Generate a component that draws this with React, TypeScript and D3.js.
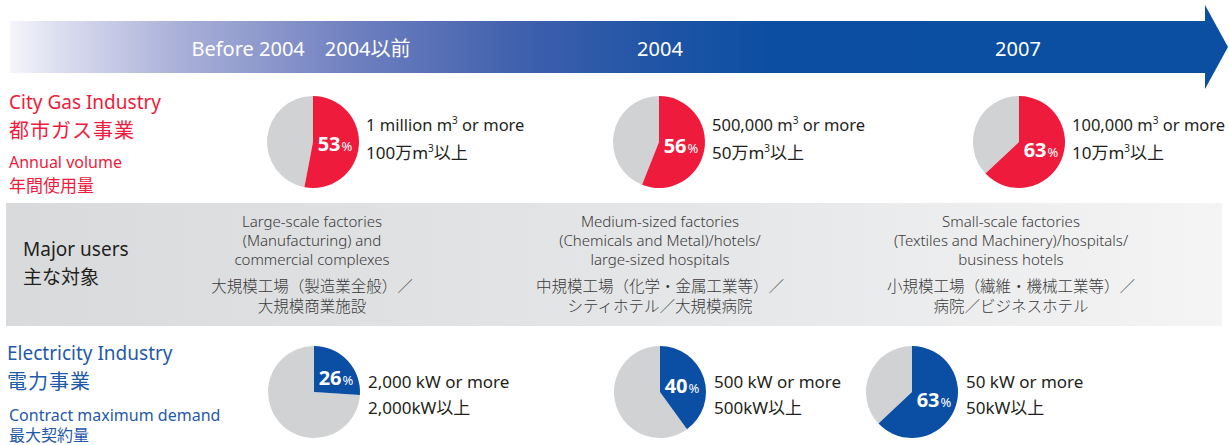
import React from "react";
import * as d3 from "d3";

const periods = ["Before 2004　2004以前", "2004", "2007"];
const gasShares = [53, 56, 63];
const gasLabelsEn = ["1 million m", "500,000 m", "100,000 m"];
const gasLabelsJa = ["100万m", "50万m", "10万m"];
const elecShares = [26, 40, 63];
const elecLabelsEn = ["2,000 kW or more", "500 kW or more", "50 kW or more"];
const elecLabelsJa = ["2,000kW以上", "500kW以上", "50kW以上"];
const usersEn = [
  ["Large-scale factories", "(Manufacturing) and", "commercial complexes"],
  ["Medium-sized factories", "(Chemicals and Metal)/hotels/", "large-sized hospitals"],
  ["Small-scale factories", "(Textiles and Machinery)/hospitals/", "business hotels"],
];
const usersJa = [
  ["大規模工場（製造業全般）／", "大規模商業施設"],
  ["中規模工場（化学・金属工業等）／", "シティホテル／大規模病院"],
  ["小規模工場（繊維・機械工業等）／", "病院／ビジネスホテル"],
];

const W = 1229;
const H = 445;
const FONT = "'Noto Sans', 'Noto Sans CJK JP', sans-serif";
const RED = "#ee1b3d";
const BLUE = "#0a4fa3";
const GREY = "#d1d2d4";
const DARK = "#231f20";

const R = 46;
const gasCx = [313, 659, 1019];
const elecCx = [314, 660, 912];
const gasCy = 142;
const elecCy = 392;
const usersCx = [312, 660, 1011];

const pieGen = d3.pie<number>().sort(null).value((d) => d).startAngle(0).endAngle(2 * Math.PI);
const arcGen = d3.arc<d3.PieArcDatum<number>>().innerRadius(0).outerRadius(R);
const labelArc = d3.arc<d3.PieArcDatum<number>>().innerRadius(20).outerRadius(20);

function Pie({ cx, cy, share, color }: { cx: number; cy: number; share: number; color: string }) {
  const arcs = pieGen([share, 100 - share]);
  const c = labelArc.centroid(arcs[0]);
  return (
    <g transform={`translate(${cx},${cy})`}>
      <path d={arcGen(arcs[1]) || ""} fill={GREY} />
      <path d={arcGen(arcs[0]) || ""} fill={color} />
      <text x={22} y={c[1] + 7} textAnchor="middle" fill="#fff" fontFamily={FONT}>
        <tspan fontSize={20} fontWeight={700}>{share}</tspan>
        <tspan fontSize={13} dx={1}>%</tspan>
      </text>
    </g>
  );
}

export default function App() {
  const x0 = 10;
  const bandTop = 21;
  const bandBot = 73;
  const shaftEnd = 1205;
  const arrowPath = `M${x0},${bandTop}H${shaftEnd}V5L1228,47L${shaftEnd},89V${bandBot}H${x0}Z`;
  return (
    <svg width={W} height={H} style={{ position: "absolute", left: 0, top: 0 }} fontFamily={FONT}>
      <defs>
        <linearGradient id="bandGrad" x1={x0} x2={W} y1={0} y2={0} gradientUnits="userSpaceOnUse">
          <stop offset="0%" stopColor="#f5f5fb" />
          <stop offset="4%" stopColor="#dcdef0" />
          <stop offset="14%" stopColor="#a9b0d8" />
          <stop offset="28%" stopColor="#7080c0" />
          <stop offset="42%" stopColor="#3f60ad" />
          <stop offset="52%" stopColor="#2355a6" />
          <stop offset="62%" stopColor="#0c4fa2" />
          <stop offset="100%" stopColor="#0a4fa2" />
        </linearGradient>
        <linearGradient id="userGrad" x1={0} x2={1} y1={0} y2={0}>
          <stop offset="0%" stopColor="#d9dadc" />
          <stop offset="60%" stopColor="#e6e7e8" />
          <stop offset="100%" stopColor="#f4f4f5" />
        </linearGradient>
      </defs>

      <path d={arrowPath} fill="url(#bandGrad)" />
      {periods.map((p, i) => (
        <text key={p} x={[301, 660, 1018][i]} y={56} textAnchor="middle" fill="#fff" fontSize={20}>
          {p}
        </text>
      ))}

      {/* City gas */}
      <g fill={RED}>
        <text x={9} y={109} fontSize={19}>City Gas Industry</text>
        <text x={9} y={138} fontSize={20} letterSpacing={1}>都市ガス事業</text>
        <text x={9} y={168} fontSize={16}>Annual volume</text>
        <text x={9} y={192} fontSize={17}>年間使用量</text>
      </g>
      {gasShares.map((s, i) => (
        <g key={"g" + i}>
          <Pie cx={gasCx[i]} cy={gasCy} share={s} color={RED} />
          <text x={gasCx[i] + 53} y={131} fontSize={16.5} fill={DARK}>
            {gasLabelsEn[i]}
            <tspan fontSize={10} dy={-7}>3</tspan>
            <tspan dy={7}> or more</tspan>
          </text>
          <text x={gasCx[i] + 53} y={159} fontSize={17} fill={DARK}>
            {gasLabelsJa[i]}
            <tspan fontSize={10} dy={-7}>3</tspan>
            <tspan dy={7}>以上</tspan>
          </text>
        </g>
      ))}

      {/* Major users */}
      <rect x={6} y={203} width={1216} height={123} fill="url(#userGrad)" />
      <text x={23} y={256} fontSize={19} fill={DARK}>Major users</text>
      <text x={23} y={284} fontSize={19} fill={DARK}>主な対象</text>
      {usersEn.map((lines, i) => (
        <g key={"u" + i} textAnchor="middle" fill="#3a3a3a">
          {lines.map((l, j) => (
            <text key={j} x={usersCx[i]} y={227 + j * 19} fontSize={15} fontWeight={300}>{l}</text>
          ))}
          {usersJa[i].map((l, j) => (
            <text key={"j" + j} x={usersCx[i]} y={292 + j * 20} fontSize={15.5} fontWeight={300}>{l}</text>
          ))}
        </g>
      ))}

      {/* Electricity */}
      <g fill="#1f5aa8">
        <text x={7} y={360} fontSize={19}>Electricity Industry</text>
        <text x={7} y={389} fontSize={20} letterSpacing={1}>電力事業</text>
        <text x={9} y={421} fontSize={16}>Contract maximum demand</text>
        <text x={9} y={441} fontSize={16}>最大契約量</text>
      </g>
      {elecShares.map((s, i) => (
        <g key={"e" + i}>
          <Pie cx={elecCx[i]} cy={elecCy} share={s} color={BLUE} />
          <text x={elecCx[i] + 54} y={388} fontSize={17} fill={DARK}>{elecLabelsEn[i]}</text>
          <text x={elecCx[i] + 54} y={414} fontSize={17} fill={DARK}>{elecLabelsJa[i]}</text>
        </g>
      ))}
    </svg>
  );
}
